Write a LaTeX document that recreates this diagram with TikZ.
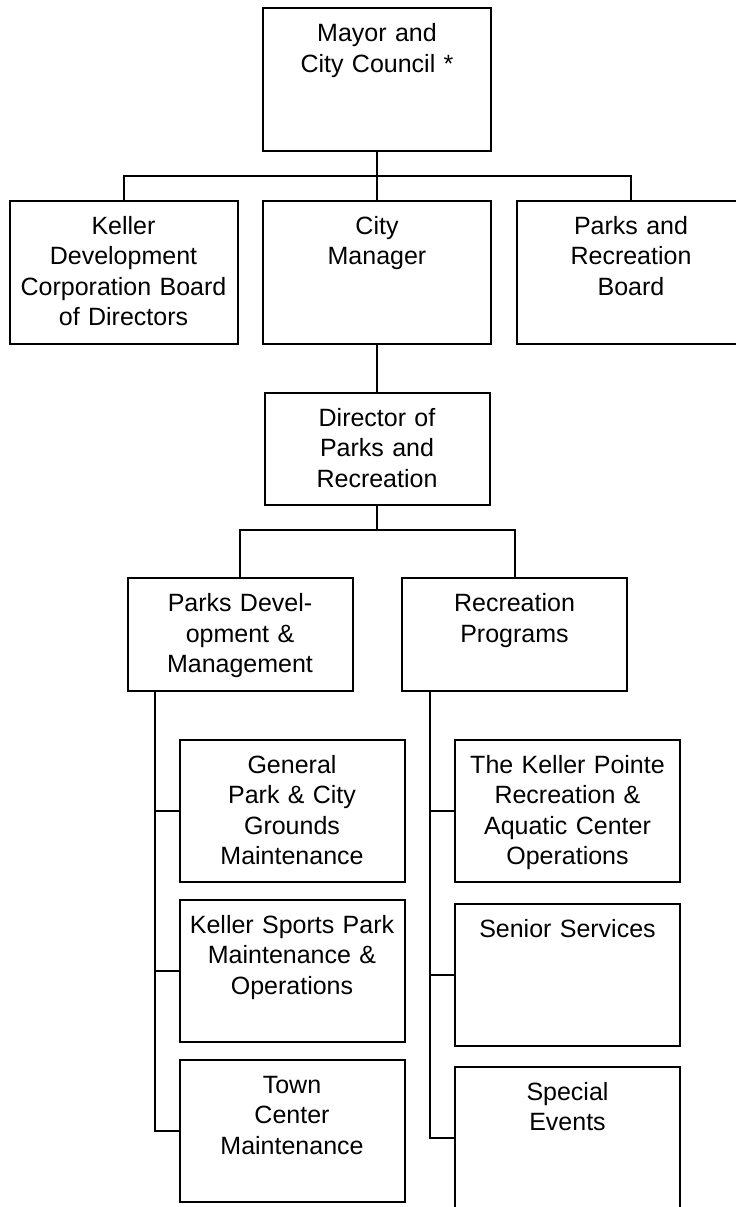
\documentclass[tikz,border=0pt]{standalone}
\usepackage{fontspec}
\setmainfont{Liberation Sans}
\usetikzlibrary{positioning}

\begin{document}
\begin{tikzpicture}[
        font=\fontsize{12.5}{15.25}\selectfont, node distance=24.5pt and 13pt,
        toprow/.style={draw, line width=1pt, align=center, inner sep=0pt, outer sep=0pt,
                       text width=114pt, text height=16.75pt, text depth=54.75pt},
        mid/.style={toprow, text width=112.5pt, text depth=39.5pt},
        leaf/.style={toprow, text width=112.5pt, text depth=54.25pt},
        wire/.style={-, line width=1pt}
      ]
        \useasboundingbox (0,0) rectangle (367.5pt,-603.5pt);
        \node[toprow, anchor=north] (mayor) at (188.5pt,-4pt) {Mayor and\\City Council *};
        \node[toprow, below=24.75pt of mayor] (cm)  {City\\Manager};
        \node[toprow, left=12.75pt of cm]     (kdc) {Keller\\Development\\Corporation Board\\of Directors};
        \node[toprow, right=of cm]            (prb) {Parks and\\Recreation\\Board};
        \node[mid, below=of cm]               (dir) {Director of\\Parks and\\Recreation};
        \node[mid, below=36.5pt of dir, xshift=-68.5pt]  (pdev) {Parks Devel-\\opment \&\\Management};
        \node[mid, below=36.5pt of dir, xshift=68.75pt]  (rec)  {Recreation\\Programs};
        \node[leaf, below=of pdev, xshift=26pt]  (gen)    {General\\Park \& City\\Grounds\\Maintenance};
        \node[leaf, below=9pt of gen]            (sports) {Keller Sports Park\\Maintenance \&\\Operations};
        \node[leaf, below=9pt of sports]         (town)   {Town\\Center\\Maintenance};
        \node[leaf, below=of rec, xshift=26.5pt] (pointe) {The Keller Pointe\\Recreation \&\\Aquatic Center\\Operations};
        \node[leaf, below=11pt of pointe]        (senior) {Senior Services};
        \node[leaf, below=10.5pt of senior]      (events) {Special\\Events};
        \draw[wire] (mayor.south) -- (cm.north);
        \draw[wire] (kdc.north) |- ([yshift=-12.5pt]mayor.south) -| (prb.north);
        \draw[wire] (cm.south) -- (dir.north);
        \draw[wire] (dir.south) -- ([yshift=-12.5pt]dir.south);
        \draw[wire] (pdev.north) |- ([yshift=-12.5pt]dir.south) -| (rec.north);
        \coordinate (lspine) at ([xshift=13.5pt]pdev.south west);
        \coordinate (rspine) at ([xshift=14pt]rec.south west);
        \draw[wire] (lspine) |- (town.west);
        \draw[wire] (rspine) |- (events.west);
        \foreach \sub in {gen,sports}
          \draw[wire] (\sub.west) -- (\sub.west -| lspine);
        \foreach \sub in {pointe,senior}
          \draw[wire] (\sub.west) -- (\sub.west -| rspine);
      \end{tikzpicture}
\end{document}
